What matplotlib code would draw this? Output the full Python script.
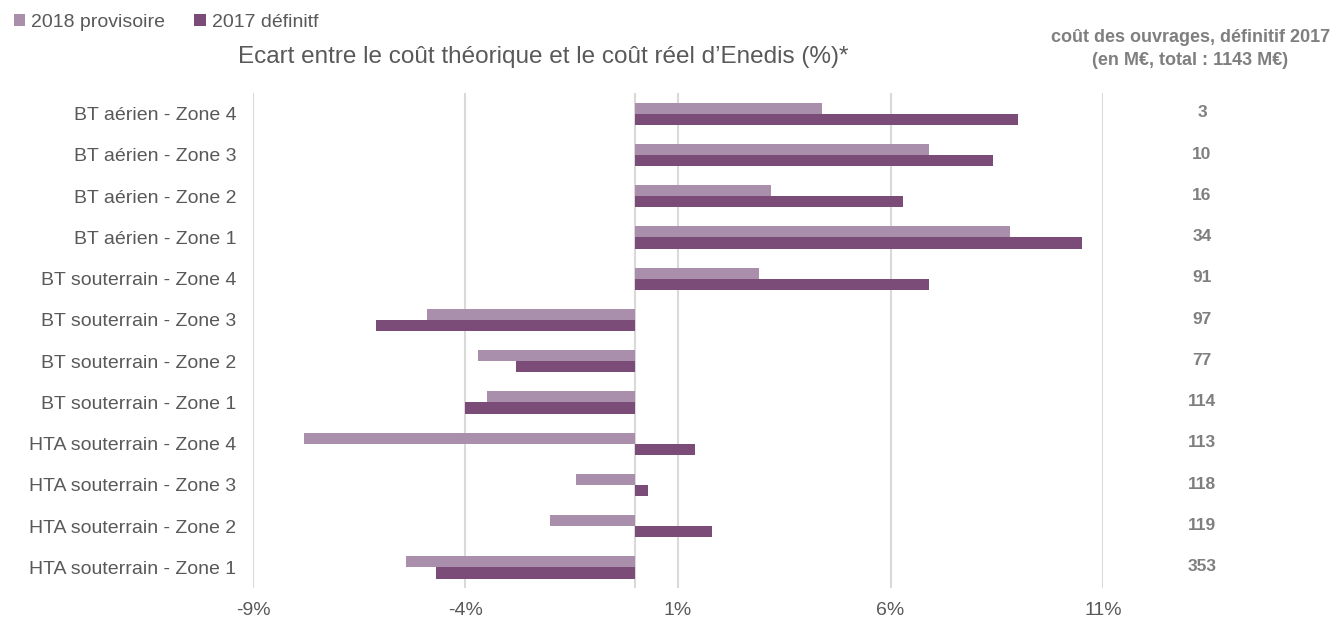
import matplotlib.pyplot as plt
import numpy as np

plt.rcParams['font.family'] = ['Liberation Sans', 'DejaVu Sans']

# Data (top to bottom)
categories = ['BT aérien - Zone 4', 'BT aérien - Zone 3', 'BT aérien - Zone 2', 'BT aérien - Zone 1',
              'BT souterrain - Zone 4', 'BT souterrain - Zone 3', 'BT souterrain - Zone 2',
              'BT souterrain - Zone 1', 'HTA souterrain - Zone 4', 'HTA souterrain - Zone 3',
              'HTA souterrain - Zone 2', 'HTA souterrain - Zone 1']
ecart_2018 = [4.4, 6.9, 3.2, 8.8, 2.9, -4.9, -3.7, -3.5, -7.8, -1.4, -2.0, -5.4]
ecart_2017 = [9.0, 8.4, 6.3, 10.5, 6.9, -6.1, -2.8, -4.0, 1.4, 0.3, 1.8, -4.7]
cout_2017 = [3, 10, 16, 34, 91, 97, 77, 114, 113, 118, 119, 353]
xticks = [-9, -4, 1, 6, 11]

c_2018 = '#a98fab'
c_2017 = '#7b4c78'
grey = '#595959'

fig = plt.figure(figsize=(13.44, 6.21), dpi=100)
ax = fig.add_axes([0.1882, 0.0531, 0.6325, 0.797])

y = np.arange(len(categories))
h = 0.27
ax.barh(y - h / 2, ecart_2018, height=h, color=c_2018, label='2018 provisoire', zorder=3)
ax.barh(y + h / 2, ecart_2017, height=h, color=c_2017, label='2017 définitf', zorder=3)

ax.set_xlim(-9, 11)
ax.set_ylim(len(categories) - 0.5, -0.5)
ax.set_xticks(xticks)
ax.set_xticklabels([f'{t}%' for t in xticks])
ax.set_yticks(y)
ax.set_yticklabels(categories)
ax.tick_params(axis='both', length=0, labelsize=14, colors=grey)
ax.tick_params(axis='y', pad=12)
ax.tick_params(axis='x', pad=10)
ax.grid(axis='x', color='#d9d9d9', linewidth=1.5, zorder=0)
ax.axvline(0, color='#d9d9d9', linewidth=1.5, zorder=2)
for s in ax.spines.values():
    s.set_visible(False)

# right column of values
for i, v in enumerate(cout_2017):
    ax.text(1.1165, i - 0.02, str(v), transform=ax.get_yaxis_transform(), ha='center', va='center',
            fontsize=12.5, fontweight='bold', color='#7f7f7f')
fig.text(0.8855, 0.94, 'coût des ouvrages, définitif 2017', ha='center', va='center',
         fontsize=13, fontweight='bold', color='#7f7f7f')
fig.text(0.8855, 0.903, '(en M€, total : 1143 M€)', ha='center', va='center',
         fontsize=13, fontweight='bold', color='#7f7f7f')

fig.text(0.404, 0.908, 'Ecart entre le coût théorique et le coût réel d\u2019Enedis (%)*', ha='center',
         va='center', fontsize=17.5, color=grey)

fig.legend(loc='upper left', bbox_to_anchor=(0.0, 1.0), ncol=2, frameon=False, fontsize=14,
           handlelength=0.6, handleheight=0.6, handletextpad=0.3, columnspacing=1.5,
           labelcolor=grey, borderaxespad=0.3)

fig.savefig('out.png', dpi=100)
